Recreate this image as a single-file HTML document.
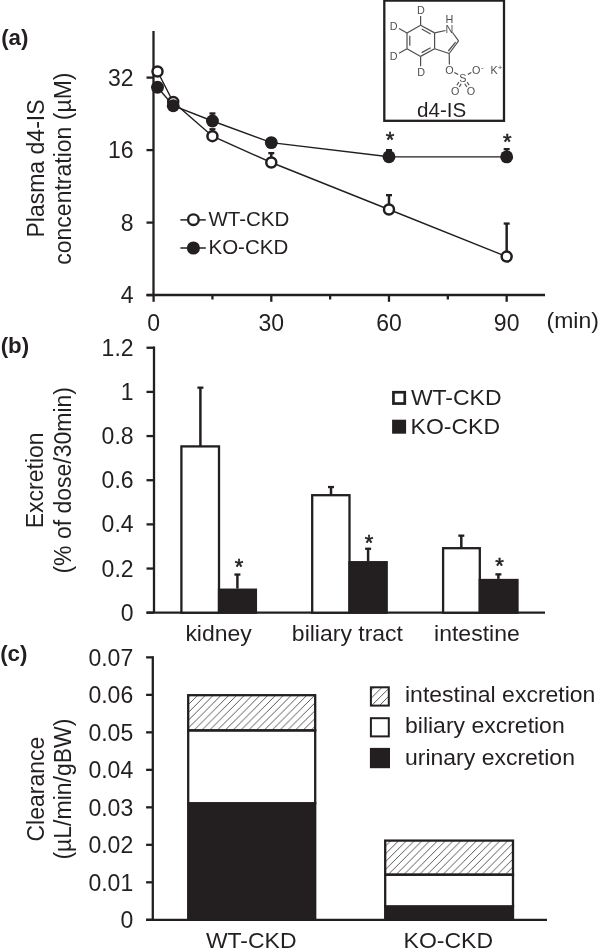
<!DOCTYPE html><html><head><meta charset="utf-8"><style>html,body{margin:0;padding:0;background:#fff;overflow:hidden;width:598px;height:950px;}svg{display:block;will-change:transform;}text{font-family:"Liberation Sans",sans-serif;fill:#231f20;}</style></head><body>
<svg width="598" height="950" viewBox="0 0 598 950">
<defs><pattern id="hA" patternUnits="userSpaceOnUse" width="7.8" height="7.8" patternTransform="translate(3.8,0)"><path d="M-1,8.8 L8.8,-1 M-1,1 L1,-1 M6.8,8.8 L8.8,6.8" stroke="#231f20" stroke-width="0.75"/></pattern><pattern id="hB" patternUnits="userSpaceOnUse" width="7.8" height="7.8" patternTransform="translate(7.0,0)"><path d="M-1,8.8 L8.8,-1 M-1,1 L1,-1 M6.8,8.8 L8.8,6.8" stroke="#231f20" stroke-width="0.75"/></pattern><pattern id="hL" patternUnits="userSpaceOnUse" width="7.8" height="7.8" patternTransform="translate(0.8,0)"><path d="M-1,8.8 L8.8,-1 M-1,1 L1,-1 M6.8,8.8 L8.8,6.8" stroke="#231f20" stroke-width="0.75"/></pattern></defs>
<text x="1.20" y="44.60" font-size="22.3" text-anchor="start" font-weight="bold">(a)</text>
<text x="0.70" y="352.90" font-size="22.3" text-anchor="start" font-weight="bold">(b)</text>
<text x="0.20" y="661.20" font-size="22.3" text-anchor="start" font-weight="bold">(c)</text>
<line x1="153.50" y1="31.00" x2="153.50" y2="296.10" stroke="#231f20" stroke-width="2.3"/>
<line x1="146.50" y1="77.60" x2="153.50" y2="77.60" stroke="#231f20" stroke-width="2.3"/>
<text x="133.60" y="85.60" font-size="23" text-anchor="end">32</text>
<line x1="146.50" y1="150.10" x2="153.50" y2="150.10" stroke="#231f20" stroke-width="2.3"/>
<text x="133.60" y="158.10" font-size="23" text-anchor="end">16</text>
<line x1="146.50" y1="222.60" x2="153.50" y2="222.60" stroke="#231f20" stroke-width="2.3"/>
<text x="133.60" y="230.60" font-size="23" text-anchor="end">8</text>
<line x1="146.50" y1="295.10" x2="153.50" y2="295.10" stroke="#231f20" stroke-width="2.3"/>
<text x="133.60" y="303.10" font-size="23" text-anchor="end">4</text>
<line x1="146.50" y1="295.00" x2="545.00" y2="295.00" stroke="#231f20" stroke-width="2.3"/>
<line x1="153.60" y1="295.00" x2="153.60" y2="301.80" stroke="#231f20" stroke-width="2.3"/>
<text x="153.60" y="330.50" font-size="23" text-anchor="middle">0</text>
<line x1="271.29" y1="295.00" x2="271.29" y2="301.80" stroke="#231f20" stroke-width="2.3"/>
<text x="271.29" y="330.50" font-size="23" text-anchor="middle">30</text>
<line x1="388.98" y1="295.00" x2="388.98" y2="301.80" stroke="#231f20" stroke-width="2.3"/>
<text x="388.98" y="330.50" font-size="23" text-anchor="middle">60</text>
<line x1="506.67" y1="295.00" x2="506.67" y2="301.80" stroke="#231f20" stroke-width="2.3"/>
<text x="506.67" y="330.50" font-size="23" text-anchor="middle">90</text>
<line x1="212.44" y1="295.00" x2="212.44" y2="299.50" stroke="#231f20" stroke-width="2.3"/>
<line x1="330.13" y1="295.00" x2="330.13" y2="299.50" stroke="#231f20" stroke-width="2.3"/>
<line x1="447.83" y1="295.00" x2="447.83" y2="299.50" stroke="#231f20" stroke-width="2.3"/>
<text transform="translate(546.50,328.00) scale(1,0.925)" font-size="23" text-anchor="start">(min)</text>
<text transform="translate(43.60,168.50) rotate(-90)" font-size="23" text-anchor="middle">Plasma d4-IS</text>
<text transform="translate(71.40,168.60) rotate(-90)" font-size="23" text-anchor="middle">concentration (µM)</text>
<polyline points="157.52,71.50 173.22,102.00 212.44,136.20 271.29,162.50 388.98,209.50 506.67,256.60" fill="none" stroke="#231f20" stroke-width="1.4"/>
<polyline points="157.52,87.20 173.22,105.70 212.44,121.00 271.29,142.60 388.98,156.70 506.67,156.90" fill="none" stroke="#231f20" stroke-width="1.4"/>
<line x1="212.44" y1="136.20" x2="212.44" y2="129.25" stroke="#231f20" stroke-width="2.5"/>
<line x1="209.44" y1="129.25" x2="215.44" y2="129.25" stroke="#231f20" stroke-width="2.3"/>
<line x1="271.29" y1="162.50" x2="271.29" y2="153.15" stroke="#231f20" stroke-width="2.5"/>
<line x1="268.29" y1="153.15" x2="274.29" y2="153.15" stroke="#231f20" stroke-width="2.3"/>
<line x1="388.98" y1="209.50" x2="388.98" y2="195.15" stroke="#231f20" stroke-width="2.5"/>
<line x1="385.98" y1="195.15" x2="391.98" y2="195.15" stroke="#231f20" stroke-width="2.3"/>
<line x1="506.67" y1="256.60" x2="506.67" y2="223.55" stroke="#231f20" stroke-width="2.5"/>
<line x1="503.67" y1="223.55" x2="509.67" y2="223.55" stroke="#231f20" stroke-width="2.3"/>
<line x1="212.44" y1="121.00" x2="212.44" y2="113.45" stroke="#231f20" stroke-width="2.5"/>
<line x1="209.44" y1="113.45" x2="215.44" y2="113.45" stroke="#231f20" stroke-width="2.3"/>
<line x1="388.98" y1="156.70" x2="388.98" y2="150.15" stroke="#231f20" stroke-width="2.5"/>
<line x1="385.98" y1="150.15" x2="391.98" y2="150.15" stroke="#231f20" stroke-width="2.3"/>
<line x1="506.67" y1="156.90" x2="506.67" y2="149.15" stroke="#231f20" stroke-width="2.5"/>
<line x1="503.67" y1="149.15" x2="509.67" y2="149.15" stroke="#231f20" stroke-width="2.3"/>
<circle cx="157.52" cy="71.50" r="5.0" fill="#fff" stroke="#231f20" stroke-width="2.5"/>
<circle cx="173.22" cy="102.00" r="5.0" fill="#fff" stroke="#231f20" stroke-width="2.5"/>
<circle cx="212.44" cy="136.20" r="5.0" fill="#fff" stroke="#231f20" stroke-width="2.5"/>
<circle cx="271.29" cy="162.50" r="5.0" fill="#fff" stroke="#231f20" stroke-width="2.5"/>
<circle cx="388.98" cy="209.50" r="5.0" fill="#fff" stroke="#231f20" stroke-width="2.5"/>
<circle cx="506.67" cy="256.60" r="5.0" fill="#fff" stroke="#231f20" stroke-width="2.5"/>
<circle cx="157.52" cy="87.20" r="6.45" fill="#231f20"/>
<circle cx="173.22" cy="105.70" r="6.45" fill="#231f20"/>
<circle cx="212.44" cy="121.00" r="6.45" fill="#231f20"/>
<circle cx="271.29" cy="142.60" r="6.45" fill="#231f20"/>
<circle cx="388.98" cy="156.70" r="6.45" fill="#231f20"/>
<circle cx="506.67" cy="156.90" r="6.45" fill="#231f20"/>
<text x="389.98" y="146.50" font-size="22" text-anchor="middle" stroke="#231f20" stroke-width="0.55">*</text>
<text x="507.27" y="148.50" font-size="22" text-anchor="middle" stroke="#231f20" stroke-width="0.55">*</text>
<line x1="180.40" y1="219.90" x2="205.80" y2="219.90" stroke="#231f20" stroke-width="1.5"/>
<circle cx="193.4" cy="219.7" r="5.3" fill="#fff" stroke="#231f20" stroke-width="2.4"/>
<text x="208.50" y="226.00" font-size="20.5" text-anchor="start">WT-CKD</text>
<line x1="180.40" y1="248.00" x2="205.80" y2="248.00" stroke="#231f20" stroke-width="1.5"/>
<circle cx="193.4" cy="248.0" r="6.55" fill="#231f20"/>
<text x="208.50" y="254.00" font-size="20.5" text-anchor="start">KO-CKD</text>
<rect x="384.3" y="0.6" width="119.7" height="120.2" fill="#fff" stroke="#231f20" stroke-width="2.3"/>
<text x="441.60" y="117.10" font-size="20.6" text-anchor="middle">d4-IS</text>
<line x1="420.60" y1="25.30" x2="434.60" y2="32.90" stroke="#504e4f" stroke-width="1.2"/>
<line x1="434.60" y1="32.90" x2="434.60" y2="48.70" stroke="#504e4f" stroke-width="1.2"/>
<line x1="434.60" y1="48.70" x2="420.60" y2="56.40" stroke="#504e4f" stroke-width="1.2"/>
<line x1="420.60" y1="56.40" x2="407.00" y2="48.70" stroke="#504e4f" stroke-width="1.2"/>
<line x1="407.00" y1="48.70" x2="407.00" y2="32.90" stroke="#504e4f" stroke-width="1.2"/>
<line x1="407.00" y1="32.90" x2="420.60" y2="25.30" stroke="#504e4f" stroke-width="1.2"/>
<line x1="409.80" y1="35.74" x2="409.80" y2="45.86" stroke="#504e4f" stroke-width="1.2"/>
<line x1="421.68" y1="29.07" x2="430.64" y2="33.93" stroke="#504e4f" stroke-width="1.2"/>
<line x1="430.65" y1="47.68" x2="421.69" y2="52.61" stroke="#504e4f" stroke-width="1.2"/>
<line x1="434.60" y1="32.90" x2="445.50" y2="30.50" stroke="#504e4f" stroke-width="1.2"/>
<line x1="452.50" y1="32.50" x2="458.60" y2="40.80" stroke="#504e4f" stroke-width="1.2"/>
<line x1="458.60" y1="40.80" x2="449.20" y2="53.50" stroke="#504e4f" stroke-width="1.2"/>
<line x1="449.20" y1="53.50" x2="434.60" y2="48.70" stroke="#504e4f" stroke-width="1.2"/>
<line x1="455.60" y1="42.20" x2="448.30" y2="51.00" stroke="#504e4f" stroke-width="1.2"/>
<line x1="449.20" y1="53.50" x2="449.40" y2="64.50" stroke="#504e4f" stroke-width="1.2"/>
<line x1="420.60" y1="25.30" x2="420.60" y2="16.00" stroke="#504e4f" stroke-width="1.2"/>
<line x1="407.00" y1="32.90" x2="399.00" y2="28.40" stroke="#504e4f" stroke-width="1.2"/>
<line x1="407.00" y1="48.70" x2="399.00" y2="53.20" stroke="#504e4f" stroke-width="1.2"/>
<line x1="420.60" y1="56.40" x2="420.60" y2="66.20" stroke="#504e4f" stroke-width="1.2"/>
<line x1="454.30" y1="72.40" x2="458.20" y2="74.60" stroke="#504e4f" stroke-width="1.2"/>
<line x1="467.80" y1="74.60" x2="471.30" y2="72.50" stroke="#504e4f" stroke-width="1.2"/>
<line x1="458.90" y1="82.00" x2="456.90" y2="85.20" stroke="#504e4f" stroke-width="1.2"/>
<line x1="461.20" y1="83.80" x2="459.30" y2="87.00" stroke="#504e4f" stroke-width="1.2"/>
<line x1="464.80" y1="83.80" x2="466.80" y2="87.00" stroke="#504e4f" stroke-width="1.2"/>
<line x1="467.20" y1="82.00" x2="469.10" y2="85.20" stroke="#504e4f" stroke-width="1.2"/>
<text x="420.80" y="14.30" font-size="10.8" text-anchor="middle" style="fill:#504e4f">D</text>
<text x="393.60" y="29.60" font-size="10.8" text-anchor="middle" style="fill:#504e4f">D</text>
<text x="393.60" y="60.40" font-size="10.8" text-anchor="middle" style="fill:#504e4f">D</text>
<text x="421.10" y="76.40" font-size="10.8" text-anchor="middle" style="fill:#504e4f">D</text>
<text x="449.30" y="33.20" font-size="10.8" text-anchor="middle" style="fill:#504e4f">N</text>
<text x="449.40" y="23.00" font-size="10.8" text-anchor="middle" style="fill:#504e4f">H</text>
<text x="449.40" y="73.60" font-size="10.8" text-anchor="middle" style="fill:#504e4f">O</text>
<text x="462.80" y="81.70" font-size="10.8" text-anchor="middle" style="fill:#504e4f">S</text>
<text x="476.30" y="73.60" font-size="10.8" text-anchor="middle" style="fill:#504e4f">O</text>
<text x="482.30" y="69.50" font-size="8" text-anchor="middle" style="fill:#504e4f">-</text>
<text x="494.20" y="73.60" font-size="10.8" text-anchor="middle" style="fill:#504e4f">K</text>
<text x="500.00" y="70.00" font-size="8" text-anchor="middle" style="fill:#504e4f">+</text>
<text x="455.20" y="95.30" font-size="10.8" text-anchor="middle" style="fill:#504e4f">O</text>
<text x="471.00" y="95.30" font-size="10.8" text-anchor="middle" style="fill:#504e4f">O</text>
<line x1="154.00" y1="346.60" x2="154.00" y2="612.70" stroke="#231f20" stroke-width="2.3"/>
<line x1="146.50" y1="612.70" x2="154.00" y2="612.70" stroke="#231f20" stroke-width="2.3"/>
<text x="133.60" y="620.70" font-size="23" text-anchor="end">0</text>
<line x1="146.50" y1="568.54" x2="154.00" y2="568.54" stroke="#231f20" stroke-width="2.3"/>
<text x="133.60" y="576.54" font-size="23" text-anchor="end">0.2</text>
<line x1="146.50" y1="524.38" x2="154.00" y2="524.38" stroke="#231f20" stroke-width="2.3"/>
<text x="133.60" y="532.38" font-size="23" text-anchor="end">0.4</text>
<line x1="146.50" y1="480.22" x2="154.00" y2="480.22" stroke="#231f20" stroke-width="2.3"/>
<text x="133.60" y="488.22" font-size="23" text-anchor="end">0.6</text>
<line x1="146.50" y1="436.06" x2="154.00" y2="436.06" stroke="#231f20" stroke-width="2.3"/>
<text x="133.60" y="444.06" font-size="23" text-anchor="end">0.8</text>
<line x1="146.50" y1="391.90" x2="154.00" y2="391.90" stroke="#231f20" stroke-width="2.3"/>
<text x="133.60" y="399.90" font-size="23" text-anchor="end">1</text>
<line x1="146.50" y1="347.74" x2="154.00" y2="347.74" stroke="#231f20" stroke-width="2.3"/>
<text x="133.60" y="355.74" font-size="23" text-anchor="end">1.2</text>
<line x1="146.50" y1="612.70" x2="545.00" y2="612.70" stroke="#231f20" stroke-width="2.3"/>
<line x1="200.40" y1="446.40" x2="200.40" y2="387.65" stroke="#231f20" stroke-width="2.5"/>
<line x1="197.40" y1="387.65" x2="203.40" y2="387.65" stroke="#231f20" stroke-width="2.3"/>
<line x1="237.40" y1="588.60" x2="237.40" y2="574.55" stroke="#231f20" stroke-width="2.5"/>
<line x1="234.40" y1="574.55" x2="240.40" y2="574.55" stroke="#231f20" stroke-width="2.3"/>
<rect x="181.40" y="446.40" width="37.60" height="166.30" fill="#fff" stroke="#231f20" stroke-width="2.3"/>
<rect x="219.00" y="589.70" width="36.90" height="23.00" fill="#231f20" stroke="#231f20" stroke-width="2.3"/>
<line x1="331.00" y1="495.20" x2="331.00" y2="487.05" stroke="#231f20" stroke-width="2.5"/>
<line x1="328.00" y1="487.05" x2="334.00" y2="487.05" stroke="#231f20" stroke-width="2.3"/>
<line x1="368.10" y1="561.10" x2="368.10" y2="548.75" stroke="#231f20" stroke-width="2.5"/>
<line x1="365.10" y1="548.75" x2="371.10" y2="548.75" stroke="#231f20" stroke-width="2.3"/>
<rect x="312.20" y="495.20" width="37.30" height="117.50" fill="#fff" stroke="#231f20" stroke-width="2.3"/>
<rect x="349.50" y="562.20" width="37.20" height="50.50" fill="#231f20" stroke="#231f20" stroke-width="2.3"/>
<line x1="461.30" y1="548.20" x2="461.30" y2="535.65" stroke="#231f20" stroke-width="2.5"/>
<line x1="458.30" y1="535.65" x2="464.30" y2="535.65" stroke="#231f20" stroke-width="2.3"/>
<line x1="498.40" y1="578.90" x2="498.40" y2="574.35" stroke="#231f20" stroke-width="2.5"/>
<line x1="495.40" y1="574.35" x2="501.40" y2="574.35" stroke="#231f20" stroke-width="2.3"/>
<rect x="443.10" y="548.20" width="36.70" height="64.50" fill="#fff" stroke="#231f20" stroke-width="2.3"/>
<rect x="479.80" y="580.00" width="37.70" height="32.70" fill="#231f20" stroke="#231f20" stroke-width="2.3"/>
<text x="239.00" y="574.00" font-size="22" text-anchor="middle" stroke="#231f20" stroke-width="0.55">*</text>
<text x="369.00" y="550.00" font-size="22" text-anchor="middle" stroke="#231f20" stroke-width="0.55">*</text>
<text x="499.50" y="573.00" font-size="22" text-anchor="middle" stroke="#231f20" stroke-width="0.55">*</text>
<text transform="translate(218.60,641.30) scale(1,0.925)" font-size="23" text-anchor="middle">kidney</text>
<text transform="translate(347.40,641.30) scale(1,0.925)" font-size="23" text-anchor="middle">biliary tract</text>
<text transform="translate(476.90,641.30) scale(1,0.925)" font-size="23" text-anchor="middle">intestine</text>
<rect x="393.45" y="392.25" width="11.3" height="11.3" fill="#fff" stroke="#231f20" stroke-width="2.7"/>
<rect x="392.1" y="419.7" width="14" height="14" fill="#231f20"/>
<text transform="translate(410.90,405.30) scale(1,0.96)" font-size="23" text-anchor="start">WT-CKD</text>
<text transform="translate(410.60,433.80) scale(1,0.96)" font-size="23" text-anchor="start">KO-CKD</text>
<text transform="translate(43.40,480.30) rotate(-90)" font-size="23" text-anchor="middle">Excretion</text>
<text transform="translate(71.30,480.30) rotate(-90)" font-size="23" text-anchor="middle">(% of dose/30min)</text>
<line x1="152.80" y1="656.30" x2="152.80" y2="919.80" stroke="#231f20" stroke-width="2.3"/>
<line x1="146.10" y1="919.80" x2="152.80" y2="919.80" stroke="#231f20" stroke-width="2.3"/>
<text x="133.20" y="928.30" font-size="23" text-anchor="end">0</text>
<line x1="146.10" y1="882.31" x2="152.80" y2="882.31" stroke="#231f20" stroke-width="2.3"/>
<text x="133.20" y="890.81" font-size="23" text-anchor="end">0.01</text>
<line x1="146.10" y1="844.82" x2="152.80" y2="844.82" stroke="#231f20" stroke-width="2.3"/>
<text x="133.20" y="853.32" font-size="23" text-anchor="end">0.02</text>
<line x1="146.10" y1="807.33" x2="152.80" y2="807.33" stroke="#231f20" stroke-width="2.3"/>
<text x="133.20" y="815.83" font-size="23" text-anchor="end">0.03</text>
<line x1="146.10" y1="769.84" x2="152.80" y2="769.84" stroke="#231f20" stroke-width="2.3"/>
<text x="133.20" y="778.34" font-size="23" text-anchor="end">0.04</text>
<line x1="146.10" y1="732.35" x2="152.80" y2="732.35" stroke="#231f20" stroke-width="2.3"/>
<text x="133.20" y="740.85" font-size="23" text-anchor="end">0.05</text>
<line x1="146.10" y1="694.86" x2="152.80" y2="694.86" stroke="#231f20" stroke-width="2.3"/>
<text x="133.20" y="703.36" font-size="23" text-anchor="end">0.06</text>
<line x1="146.10" y1="657.37" x2="152.80" y2="657.37" stroke="#231f20" stroke-width="2.3"/>
<text x="133.20" y="665.87" font-size="23" text-anchor="end">0.07</text>
<line x1="146.10" y1="919.80" x2="547.00" y2="919.80" stroke="#231f20" stroke-width="2.3"/>
<rect x="188.20" y="803.20" width="127.00" height="116.60" fill="#231f20" stroke="#231f20" stroke-width="2.3"/>
<rect x="188.20" y="730.40" width="127.00" height="72.80" fill="#fff" stroke="#231f20" stroke-width="2.3"/>
<rect x="188.20" y="695.20" width="127.00" height="35.20" fill="url(#hA)" stroke="#231f20" stroke-width="2.3"/>
<rect x="385.20" y="906.30" width="127.80" height="13.50" fill="#231f20" stroke="#231f20" stroke-width="2.3"/>
<rect x="385.20" y="874.70" width="127.80" height="31.60" fill="#fff" stroke="#231f20" stroke-width="2.3"/>
<rect x="385.20" y="840.60" width="127.80" height="34.10" fill="url(#hB)" stroke="#231f20" stroke-width="2.3"/>
<text transform="translate(251.20,948.30) scale(1,0.925)" font-size="23" text-anchor="middle">WT-CKD</text>
<text transform="translate(448.30,948.30) scale(1,0.925)" font-size="23" text-anchor="middle">KO-CKD</text>
<text transform="translate(43.50,789.10) rotate(-90)" font-size="23" text-anchor="middle">Clearance</text>
<text transform="translate(71.30,789.10) rotate(-90)" font-size="23" text-anchor="middle">(µL/min/gBW)</text>
<rect x="370.9" y="687.3" width="17.9" height="18.3" fill="url(#hL)" stroke="#231f20" stroke-width="2.0"/>
<rect x="370.9" y="718.2" width="17.9" height="18.2" fill="#fff" stroke="#231f20" stroke-width="2.0"/>
<rect x="369.9" y="747.9" width="20.1" height="20.3" fill="#231f20"/>
<text transform="translate(405.00,701.80) scale(1,0.925)" font-size="23" text-anchor="start">intestinal excretion</text>
<text transform="translate(405.00,732.90) scale(1,0.925)" font-size="23" text-anchor="start">biliary excretion</text>
<text transform="translate(405.00,764.80) scale(1,0.925)" font-size="23" text-anchor="start">urinary excretion</text>
</svg></body></html>
